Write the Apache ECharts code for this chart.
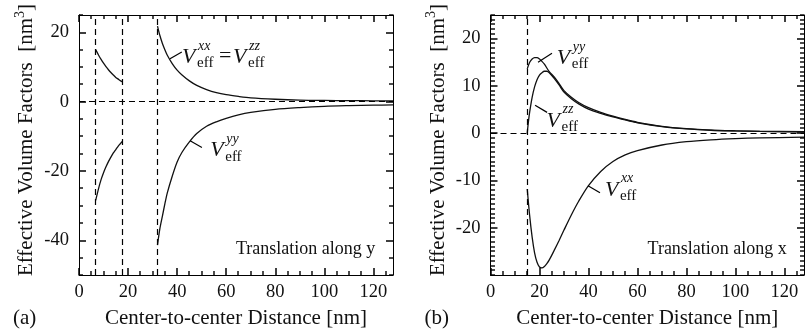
<!DOCTYPE html>
<html><head><meta charset="utf-8">
<script src="https://cdn.jsdelivr.net/npm/echarts@6/dist/echarts.min.js"></script>
<style>html,body{margin:0;padding:0;background:#fff}#c{width:807px;height:332px}</style>
</head><body><div id="c"></div>
<script>
// ---------- tick labels ----------
const xMajorTicks = [0, 20, 40, 60, 80, 100, 120];
const xMinorStep = 5;
const leftYMajorTicks = [-40, -20, 0, 20];
const leftYMinorStep = 5;
const rightYMajorTicks = [-20, -10, 0, 10, 20];
const rightYMinorStep = 1;

// ---------- panel (a): translation along y ----------
const leftSeg1X = [6.8, 8, 9, 10, 11, 12, 13, 14, 15, 16, 17, 17.8];
const leftSeg1XXZZ = [15.0, 13.4, 12.2, 11.1, 10.1, 9.2, 8.4, 7.7, 7.0, 6.5, 6.0, 5.7];
const leftSeg1YY = [-28.5, -25.0, -22.5, -20.5, -18.8, -17.3, -16.0, -14.8, -13.8, -12.8, -12.0, -11.3];
const leftSeg2X = [32, 33, 34, 35, 36, 38, 40, 42, 45, 48, 52, 56, 60, 65, 70, 80, 90, 100, 110, 120, 128];
const leftSeg2XXZZ = [21.8, 19.0, 16.8, 15.0, 13.4, 11.0, 9.1, 7.7, 6.0, 4.7, 3.5, 2.6, 2.0, 1.5, 1.1, 0.7, 0.45, 0.35, 0.3, 0.25, 0.2];
const leftSeg2YY = [-41.4, -36.5, -33.0, -29.5, -26.3, -21.5, -17.4, -14.6, -11.6, -9.2, -7.1, -5.8, -4.8, -3.8, -3.1, -2.2, -1.7, -1.35, -1.15, -1.0, -0.95];
const leftDashedX = [6.8, 17.8, 32];

// ---------- panel (b): translation along x ----------
const rightYYX = [15, 16, 17, 18, 19, 20, 21, 22, 24, 26, 28, 30, 33, 36, 40, 45, 50, 55, 60, 70, 80, 90, 100, 110, 128];
const rightYY = [13.6, 15.0, 15.7, 16.0, 16.0, 15.7, 15.2, 14.6, 13.0, 11.9, 10.5, 9.0, 7.6, 6.5, 5.4, 4.4, 3.6, 2.9, 2.3, 1.45, 0.95, 0.65, 0.5, 0.4, 0.3];
const rightZZX = [15, 15.5, 16, 17, 18, 19, 20, 21, 22, 23, 24, 26, 28, 30, 33, 36, 40, 45, 50, 55, 60, 70, 80, 90, 100, 110, 128];
const rightZZ = [0, 2.5, 4.5, 7.6, 9.8, 11.3, 12.3, 12.8, 13.1, 13.1, 12.8, 11.6, 10.2, 8.7, 7.3, 6.2, 5.1, 4.2, 3.45, 2.8, 2.2, 1.4, 0.9, 0.62, 0.48, 0.38, 0.28];
const rightXXX = [15, 16, 17, 18, 19, 20, 21, 22, 23, 24, 26, 28, 30, 33, 36, 40, 45, 50, 55, 60, 70, 80, 90, 100, 110, 128];
const rightXX = [-11.8, -17.5, -22.0, -25.3, -27.3, -28.3, -28.5, -28.2, -27.6, -26.8, -24.8, -22.7, -20.5, -17.3, -14.4, -11.1, -8.1, -6.0, -4.6, -3.7, -2.5, -1.8, -1.4, -1.15, -1.0, -0.85];
const rightDashedX = [15];

// ---------- annotation anchors (data coords) ----------
const annotations = [
  {p: 0, x: 42.0, y: 10.7, sup: 'xx', eq: 'zz'},
  {p: 0, x: 53.5, y: -16.2, sup: 'yy'},
  {p: 1, x: 27.1, y: 14.3, sup: 'yy'},
  {p: 1, x: 22.9, y: 1.0, sup: 'zz'},
  {p: 1, x: 46.7, y: -13.6, sup: 'xx'}
];
const pointers = [
  {p: 0, from: [37.1, 12.4], to: [41.9, 14.3]},
  {p: 0, from: [45.3, -11.3], to: [50.1, -13.2]},
  {p: 1, from: [19.4, 15.0], to: [25.1, 16.9]},
  {p: 1, from: [18.2, 5.9], to: [23.1, 4.4]},
  {p: 1, from: [39.8, -11.1], to: [44.7, -12.6]}
];
const captions = [
  {p: 0, x: 120.8, y: -42.6, text: 'Translation along y'},
  {p: 1, x: 121, y: -24.5, text: 'Translation along x'}
];

const FONT = 'Liberation Serif';
const BLACK = '#000';
const zip = (xs, ys) => xs.map((x, i) => [x, ys[i]]);

const grids = [
  {left: 79, top: 15, width: 314, height: 260},
  {left: 490.5, top: 15, width: 313.5, height: 260}
];
const X_MIN = 0, X_MAX = 128;
const yRanges = [
  {min: -50, max: 25, major: leftYMajorTicks, step: leftYMinorStep},
  {min: -30, max: 25, major: rightYMajorTicks, step: rightYMinorStep}
];

const axisLine = {show: true, onZero: false, lineStyle: {color: BLACK, width: 1}};
const majorTick = vals => ({show: true, inside: true, length: 7, customValues: vals, lineStyle: {color: BLACK, width: 1.5}});
const xAxis = [], yAxis = [];
grids.forEach((g, gi) => {
  ['bottom', 'top'].forEach(pos => {
    xAxis.push({gridIndex: gi, type: 'value', position: pos, min: X_MIN, max: X_MAX,
      axisLine, splitLine: {show: false}, axisTick: majorTick(xMajorTicks),
      axisLabel: {show: pos === 'bottom', customValues: xMajorTicks, fontFamily: FONT, fontSize: 18.5, color: '#111', margin: 8}});
  });
  const r = yRanges[gi];
  ['left', 'right'].forEach(pos => {
    yAxis.push({gridIndex: gi, type: 'value', position: pos, min: r.min, max: r.max,
      axisLine, splitLine: {show: false}, axisTick: majorTick(r.major),
      axisLabel: {show: pos === 'left', customValues: r.major, fontFamily: FONT, fontSize: 18.5, color: '#111', margin: 10}});
  });
});

const lineBase = (data, gi) => ({
  type: 'line', data, xAxisIndex: gi * 2, yAxisIndex: gi * 2, symbol: 'none', smooth: 0.3,
  lineStyle: {color: '#111', width: 1.3}
});
const dashed = (gi, xs) => ({
  type: 'line', data: [], xAxisIndex: gi * 2, yAxisIndex: gi * 2,
  markLine: {silent: true, symbol: 'none', label: {show: false}, animation: false,
    lineStyle: {color: BLACK, type: [6, 4], width: 1.2},
    data: [{yAxis: 0}].concat(xs.map(x => ({xAxis: x})))}
});

const series = [
  lineBase(zip(leftSeg1X, leftSeg1XXZZ), 0),
  lineBase(zip(leftSeg1X, leftSeg1YY), 0),
  lineBase(zip(leftSeg2X, leftSeg2XXZZ), 0),
  lineBase(zip(leftSeg2X, leftSeg2YY), 0),
  dashed(0, leftDashedX),
  lineBase(zip(rightYYX, rightYY), 1),
  lineBase(zip(rightZZX, rightZZ), 1),
  lineBase(zip(rightXXX, rightXX), 1),
  dashed(1, rightDashedX)
];

const chart = echarts.init(document.getElementById('c'));
chart.setOption({
  animation: false,
  grid: grids.map(g => Object.assign({show: false}, g)),
  xAxis, yAxis, series
});

function px(p, pt) { return chart.convertToPixel({xAxisIndex: p * 2, yAxisIndex: p * 2}, pt); }
function txt(s, x, base, size, italic, align) {
  return {type: 'text', x: x, y: base - 0.34 * size, z: 100,
    style: {text: s, fontFamily: FONT, fontSize: size, fontStyle: italic ? 'italic' : 'normal',
      fill: '#111', align: align || 'left', verticalAlign: 'middle'}};
}
function vGroup(x, b, sup) {
  return [txt('V', x, b, 22, true), txt(sup, x + 16, b - 14, 14, true), txt('eff', x + 15, b + 4, 15, false)];
}
const graphic = [];
const seg = (x1, y1, x2, y2, w) => ({type: 'line', z: 100,
  shape: {x1, y1, x2, y2}, style: {stroke: BLACK, lineWidth: w || 1}});
const bar = (x, y, w, h) => ({type: 'rect', z: 100,
  shape: {x, y, width: w, height: h}, style: {fill: '#000'}});

// minor inward ticks on all four sides, placed through the axes' own scales
grids.forEach((g, gi) => {
  const r = yRanges[gi];
  const top = Math.round(g.top), bot = Math.round(g.top + g.height);
  const lft = Math.round(g.left), rgt = Math.round(g.left + g.width);
  for (let v = X_MIN; v < X_MAX; v += xMinorStep) {
    if (xMajorTicks.includes(v)) continue;
    const x = Math.round(px(gi, [v, 0])[0]) - 0.7;
    graphic.push(bar(x, bot - 4, 1.4, 4), bar(x, top, 1.4, 4));
  }
  for (let v = r.min; v <= r.max; v += r.step) {
    if (r.major.includes(v)) continue;
    const y = Math.round(px(gi, [0, v])[1]) - 0.7;
    graphic.push(bar(lft, y, 4, 1.4), bar(rgt - 4, y, 4, 1.4));
  }
});

annotations.forEach(a => {
  const [x, b] = px(a.p, [a.x, a.y]);
  graphic.push(...vGroup(x, b, a.sup));
  if (a.eq) {
    graphic.push(txt('=', x + 37, b - 1, 22, false));
    graphic.push(...vGroup(x + 51, b, a.eq));
  }
});
pointers.forEach(pt => {
  const a = px(pt.p, pt.from), b = px(pt.p, pt.to);
  graphic.push(seg(a[0], a[1], b[0], b[1], 1.2));
});
captions.forEach(c => {
  const [x, y] = px(c.p, [c.x, c.y]);
  graphic.push({type: 'text', x: x, y: y, z: 100, style: {text: c.text, fontFamily: FONT, fontSize: 18, fill: '#111', align: 'right', verticalAlign: 'middle'}});
});
grids.forEach((g, gi) => {
  const cx = g.left + g.width / 2;
  graphic.push({type: 'text', x: cx, y: 318, z: 100, style: {text: 'Center-to-center Distance [nm]', fontFamily: FONT, fontSize: 21, fill: '#111', align: 'center', verticalAlign: 'middle'}});
  graphic.push({type: 'text', x: g.left - 66, y: 318, z: 100, style: {text: gi === 0 ? '(a)' : '(b)', fontFamily: FONT, fontSize: 21, fill: '#111', align: 'left', verticalAlign: 'middle'}});
  graphic.push({type: 'text', x: g.left - 54, y: 140, rotation: Math.PI / 2, z: 100,
    style: {text: '{n|Effective Volume Factors  [nm}{s|3}{n|]}', align: 'center', verticalAlign: 'middle',
      rich: {n: {fontFamily: FONT, fontSize: 21, fill: '#111', lineHeight: 24, verticalAlign: 'bottom'},
             s: {fontFamily: FONT, fontSize: 14, fill: '#111', lineHeight: 24, verticalAlign: 'top'}}}});
});
chart.setOption({graphic});
</script></body></html>
